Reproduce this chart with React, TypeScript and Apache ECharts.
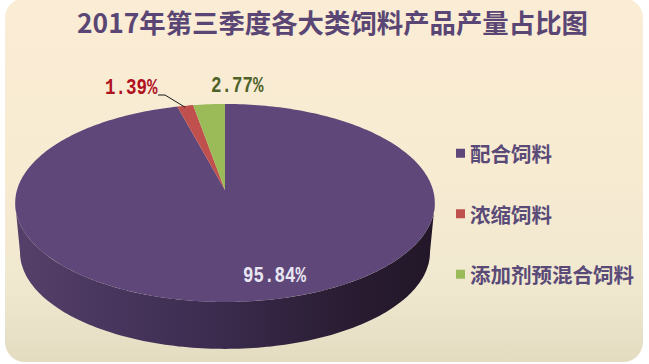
import React, { useEffect, useRef } from "react";
import * as echarts from "echarts";

const titleText = "2017年第三季度各大类饲料产品产量占比图";
const categories = ["配合饲料", "浓缩饲料", "添加剂预混合饲料"];
const shares = [95.84, 1.39, 2.77];
const colors = ["#5f4879", "#c0504d", "#9bbb59"];

const W = 649, H = 364;
const CJK = '"Noto Sans CJK SC", sans-serif';
const NUM = '"Liberation Mono", "DejaVu Sans Mono", monospace';

// perspective projection of the pie disc
const CX = 225, CY = 190, A = 208, B = 97.3, K = 0.131;
function project(theta: number, dy = 0, s = 1): [number, number] {
  const u = Math.sin(theta), v = Math.cos(theta);
  const d = 1 + K * v;
  return [CX + (s * A * u) / d, CY + dy + (s * B * -v) / d];
}
function arc(a0: number, a1: number, dy = 0, s = 1) {
  const pts: [number, number][] = [];
  const n = Math.max(4, Math.ceil(Math.abs(a1 - a0) / 0.02));
  for (let i = 0; i <= n; i++) pts.push(project(a0 + ((a1 - a0) * i) / n, dy, s));
  return pts;
}
const total = shares.reduce((a, b) => a + b, 0);
const angleOf = (pct: number) => (pct / total) * Math.PI * 2;

function wall() {
  const a0 = Math.PI / 2 + K, a1 = Math.PI * 1.5 - K;
  const top = arc(a0, a1);
  const bottom = arc(a1, a0, 49.5, 0.977);
  return {
    type: "polygon",
    shape: { points: [...top, ...bottom] },
    style: {
      fill: new echarts.graphic.LinearGradient(0, 0, 1, 0, [
        { offset: 0, color: "#554069" },
        { offset: 0.2, color: "#4a3760" },
        { offset: 0.5, color: "#3a2b4d" },
        { offset: 0.75, color: "#2b1e35" },
        { offset: 1, color: "#221628" },
      ]),
    },
  };
}

const labelSpec = [
  { x: 243, y: 276, fill: "#e9e6f3" },
  { x: 105, y: 88, fill: "#b0111f" },
  { x: 211, y: 86, fill: "#4f6228" },
];

function makeRender(idx: number) {
  return (_p: any, api: any) => {
    const before = shares.slice(0, idx).reduce((a, b) => a + b, 0);
    const a0 = angleOf(before);
    const a1 = a0 + angleOf(api.value(0));
    const rim = arc(a0, a1);
    const children: any[] = [];
    if (idx === 0) children.push(wall());
    children.push({
      type: "polygon",
      shape: { points: [[CX, CY], ...rim] },
      style: { fill: colors[idx] },
    });
    if (idx === 1) {
      const mid = project((a0 + a1) / 2);
      children.push({
        type: "polyline",
        shape: { points: [[158, 95], [165, 95], [mid[0], mid[1] + 1.5]] },
        style: { stroke: "#1a1a1a", fill: "none", lineWidth: 1 },
      });
    }
    const l = labelSpec[idx];
    children.push({
      type: "text",
      z2: 10,
      x: l.x,
      y: l.y,
      scaleY: 1.25,
      style: {
        text: `${api.value(0).toFixed(2)}%`,
        x: 0,
        y: 0,
        fill: l.fill,
        font: `bold 17.5px ${NUM}`,
        verticalAlign: "middle",
        align: "left",
      },
    });
    return { type: "group", children };
  };
}

export default function App() {
  const ref = useRef<HTMLDivElement>(null);
  useEffect(() => {
    const chart = echarts.init(ref.current!, undefined, { renderer: "svg" });
    chart.setOption({
      animation: false,
      backgroundColor: "#ffffff",
      graphic: [
        {
          type: "rect",
          z: -10,
          shape: { x: 5, y: -2, width: 638, height: 364, r: 20 },
          style: {
            fill: new echarts.graphic.LinearGradient(0, 0, 0, 1, [
              { offset: 0, color: "#fbedd5" },
              { offset: 0.5, color: "#f7ebd2" },
              { offset: 0.8, color: "#efe8cf" },
              { offset: 1, color: "#e3dcc1" },
            ]),
          },
        },
      ],
      title: {
        text: titleText,
        left: 72,
        top: 3,
        textStyle: { fontFamily: CJK, fontSize: 26.4, fontWeight: "bold", color: "#5a4674" },
      },
      legend: {
        orient: "vertical",
        left: 456,
        top: 143,
        padding: 0,
        itemWidth: 9,
        itemHeight: 9,
        itemGap: 40,
        icon: "rect",
        data: categories,
        selectedMode: false,
        textStyle: {
          fontFamily: CJK,
          fontSize: 20.5,
          fontWeight: "bold",
          color: "#5a4a78",
        },
      },
      series: categories.map((name, i) => ({
        type: "custom",
        name,
        coordinateSystem: "none",
        itemStyle: { color: colors[i] },
        silent: true,
        data: [[shares[i]]],
        renderItem: makeRender(i),
      })),
    });
    return () => chart.dispose();
  }, []);
  return <div ref={ref} style={{ position: "fixed", left: 0, top: 0, width: W, height: H }} />;
}
